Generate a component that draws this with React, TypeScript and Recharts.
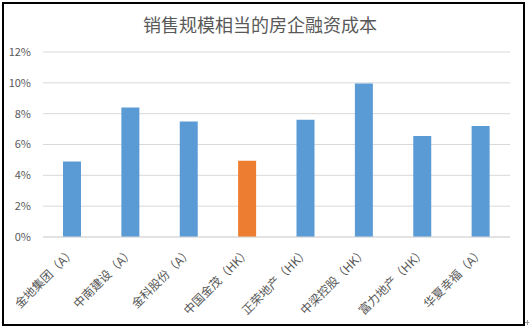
import React from "react";
import { BarChart, Bar, XAxis, YAxis, CartesianGrid, Cell } from "recharts";

const companies = [
  "金地集团（A）",
  "中南建设（A）",
  "金科股份（A）",
  "中国金茂（HK）",
  "正荣地产（HK）",
  "中梁控股（HK）",
  "富力地产（HK）",
  "华夏幸福（A）",
];
// financing cost, %
const costs = [4.9, 8.4, 7.5, 4.95, 7.6, 9.95, 6.55, 7.2];
const yTicks = [0, 2, 4, 6, 8, 10, 12];
const highlight = "中国金茂（HK）";

const BLUE = "#5B9BD5";
const ORANGE = "#ED7D31";
const GREY = "#595959";
const FONT = "'Noto Sans CJK SC', 'Noto Sans', sans-serif";

const data = companies.map((name, i) => ({ name, cost: costs[i] }));

const AngledTick = (props: any) => {
  const { x, y, payload } = props;
  const ty = y + 8;
  return (
    <text
      x={x + 4}
      y={ty}
      transform={`rotate(-45 ${x + 4} ${ty})`}
      textAnchor="end"
      fill={GREY}
      fontSize={12}
      fontFamily={FONT}
    >
      {payload.value}
    </text>
  );
};

const App = () => {
  return (
    <div
      style={{
        position: "absolute",
        left: 0,
        top: 0,
        width: 529,
        height: 328,
        background: "#fff",
      }}
    >
      {/* frame */}
      <div
        style={{
          position: "absolute",
          left: 2,
          top: 2,
          width: 523,
          height: 324,
          border: "2px solid #000",
          boxSizing: "border-box",
        }}
      />
      <div
        style={{
          position: "absolute",
          left: 0,
          top: 12,
          width: 520,
          textAlign: "center",
          fontFamily: FONT,
          fontSize: 18,
          color: GREY,
          lineHeight: "24px",
        }}
      >
        销售规模相当的房企融资成本
      </div>
      <div style={{ position: "absolute", left: 0, top: 0 }}>
        <BarChart
          width={529}
          height={328}
          data={data}
          margin={{ top: 52, right: 19, left: 0, bottom: 0 }}
        >
          <CartesianGrid vertical={false} stroke="#d9d9d9" />
          <XAxis
            dataKey="name"
            interval={0}
            height={91}
            tickLine={false}
            axisLine={{ stroke: "#d9d9d9" }}
            tick={<AngledTick />}
          />
          <YAxis
            width={43}
            domain={[0, 12]}
            ticks={yTicks}
            tickFormatter={(v) => `${v}%`}
            axisLine={false}
            tickLine={false}
            tickMargin={6}
            tick={{ fill: GREY, fontSize: 11, fontFamily: FONT }}
          />
          <Bar dataKey="cost" barSize={18} isAnimationActive={false}>
            {data.map((d) => (
              <Cell key={d.name} fill={d.name === highlight ? ORANGE : BLUE} />
            ))}
          </Bar>
        </BarChart>
      </div>
      {/* little resize mark at the corner */}
      <div
        style={{
          position: "absolute",
          left: 525,
          top: 322,
          width: 4,
          height: 1,
          background: "#999",
        }}
      />
      <div
        style={{
          position: "absolute",
          left: 527,
          top: 320,
          width: 1,
          height: 5,
          background: "#999",
        }}
      />
    </div>
  );
};

export default App;
